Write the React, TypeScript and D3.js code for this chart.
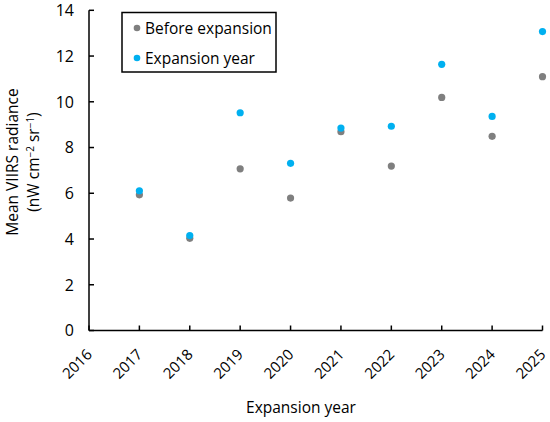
import React from "react";
import * as d3 from "d3";

const years = [2017, 2018, 2019, 2020, 2021, 2022, 2023, 2024, 2025];
const beforeExpansion = [5.93, 4.03, 7.07, 5.79, 8.69, 7.19, 10.19, 8.49, 11.1];
const expansionYear = [6.11, 4.15, 9.52, 7.31, 8.85, 8.93, 11.64, 9.36, 13.07];
const xTicks = [2016, 2017, 2018, 2019, 2020, 2021, 2022, 2023, 2024, 2025];
const yTicks = [0, 2, 4, 6, 8, 10, 12, 14];
const seriesNames = ["Before expansion", "Expansion year"];
const seriesColors = ["#7f7f7f", "#00b0f0"];

const W = 550;
const H = 422;
const FONT = "'Open Sans', sans-serif";

export default function App() {
  const x = d3.scaleLinear().domain([2016, 2025]).range([89, 542.5]);
  const y = d3.scaleLinear().domain([0, 14]).range([330.5, 10.3]);
  const series = [beforeExpansion, expansionYear];
  return (
    <svg width={W} height={H} style={{ position: "absolute", left: 0, top: 0, background: "#fff" }}>
      <rect width={W} height={H} fill="#fff" />
      {/* axes */}
      <line x1={x(2016)} x2={x(2016)} y1={y(14)} y2={y(0)} stroke="#000" strokeWidth={1.5} />
      <line x1={x(2016)} x2={x(2025)} y1={y(0)} y2={y(0)} stroke="#000" strokeWidth={1.5} />
      {yTicks.map((t) => (
        <g key={"y" + t}>
          <line x1={x(2016)} x2={x(2016) + 5} y1={y(t)} y2={y(t)} stroke="#000" strokeWidth={1.5} />
          <text x={x(2016) - 15} y={y(t)} dy="0.36em" textAnchor="end" fontFamily={FONT} fontSize={16} fill="#000">
            {t}
          </text>
        </g>
      ))}
      {xTicks.map((t) => (
        <g key={"x" + t}>
          <line x1={x(t)} x2={x(t)} y1={y(0)} y2={y(0) - 5} stroke="#000" strokeWidth={1.5} />
          <text
            transform={`translate(${x(t) + 4},${y(0) + 25}) rotate(-45)`}
            textAnchor="end"
            fontFamily={FONT}
            fontSize={15}
            fill="#000"
          >
            {t}
          </text>
        </g>
      ))}
      {/* axis titles */}
      <text x={301} y={413} textAnchor="middle" fontFamily={FONT} fontSize={15.5} fill="#000">
        Expansion year
      </text>
      <text transform="translate(18,162) rotate(-90)" textAnchor="middle" fontFamily={FONT} fontSize={15.5} fill="#000">
        Mean VIIRS radiance
      </text>
      <text transform="translate(38.5,162) rotate(-90)" textAnchor="middle" fontFamily={FONT} fontSize={15.5} fill="#000">
        (nW cm
        <tspan dy="-5" fontSize={10}>−2</tspan>
        <tspan dy="5"> sr</tspan>
        <tspan dy="-5" fontSize={10}>−1</tspan>
        <tspan dy="5">)</tspan>
      </text>
      {/* points */}
      {series.map((s, si) =>
        s.map((v, i) => (
          <circle key={si + "-" + i} cx={x(years[i])} cy={y(v)} r={3.6} fill={seriesColors[si]} />
        ))
      )}
      {/* legend */}
      <rect x={122} y={12.5} width={154} height={59.5} fill="#fff" stroke="#000" strokeWidth={1.5} />
      {seriesNames.map((n, i) => (
        <g key={n}>
          <circle cx={137} cy={28 + i * 30} r={3.3} fill={seriesColors[i]} />
          <text x={145} y={28 + i * 30} dy="0.36em" fontFamily={FONT} fontSize={15.5} fill="#000">
            {n}
          </text>
        </g>
      ))}
    </svg>
  );
}
